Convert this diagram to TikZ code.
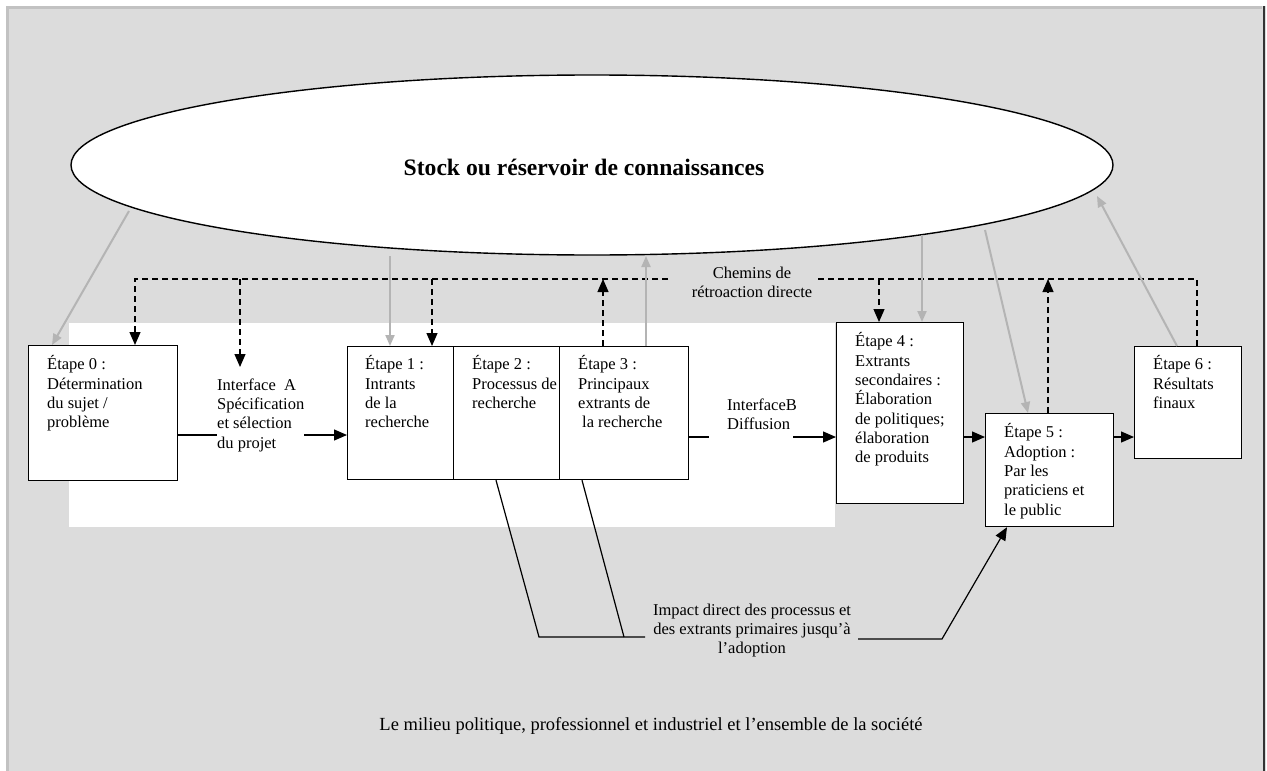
\documentclass[tikz,border=0pt]{standalone}
\usepackage{fontspec}
\setmainfont{Liberation Serif}
\usetikzlibrary{arrows.meta,shapes.geometric,calc}
\definecolor{bggray}{HTML}{DCDCDC}
\definecolor{edgegray}{HTML}{C2C2C2}
\definecolor{arrgray}{HTML}{B4B4B4}
\newcommand\boxfont{\fontsize{16.5}{19.3}\selectfont}
\begin{document}
\begin{tikzpicture}[x=1pt,y=-1pt,
  stepbox/.style={draw=black,line width=1.2pt,fill=white,inner sep=0pt,anchor=north west},
  lbl/.style={anchor=north west,inner sep=0pt,align=left,font=\boxfont},
  clbl/.style={anchor=north,inner sep=0pt,align=center,font=\boxfont},
  flow/.style={line width=1.2pt,-{Triangle[length=13pt,width=11pt]}},
  plainline/.style={line width=1.2pt},
  fb/.style={line width=1.2pt,dash pattern=on 6pt off 4pt},
  fbarrow/.style={fb,-{Triangle[length=13pt,width=11pt]}},
  grayarr/.style={arrgray,line width=2pt,-{Triangle[length=11pt,width=9pt]}},
]
\useasboundingbox (0,0) rectangle (1267,771);
% frame
\fill[white] (0,0) rectangle (1267,771);
\fill[bggray] (6,6) rectangle (1266,771);
\draw[edgegray,line width=3pt] (7.5,771) -- (7.5,7.5) -- (1262,7.5);
\draw[black!80,line width=2pt] (1264,6) -- (1264,771);
\fill[white] (69,323) rectangle (835,527);

% knowledge stock
\node[ellipse,draw=black,line width=1.4pt,fill=white,minimum width=1042pt,minimum height=180pt,inner sep=0pt] (stock) at (592,165) {};
\node[inner sep=0pt,font=\bfseries\fontsize{23.6}{28}\selectfont] (stocktxt) at (584,167) {Stock ou réservoir de connaissances};

% boxes
\node[stepbox,minimum width=149pt,minimum height=135pt] (box0) at (28,345) {};
\node[stepbox,minimum width=106pt,minimum height=133pt] (box1) at (347,346) {};
\node[stepbox,minimum width=106pt,minimum height=133pt] (box2) at (453,346) {};
\node[stepbox,minimum width=129pt,minimum height=133pt] (box3) at (559,346) {};
\node[stepbox,minimum width=127pt,minimum height=181pt] (box4) at (836,322) {};
\node[stepbox,minimum width=128pt,minimum height=113pt] (box5) at (985,413) {};
\node[stepbox,minimum width=107pt,minimum height=112pt] (box6) at (1134,346) {};

% texts
\node[lbl] (t0) at (47,355.5) {\strut Étape 0 :\\Détermination\\du sujet /\\problème};
\node[lbl] (ifa) at (217,376.5) {\strut Interface\ \ A\\Spécification\\et sélection\\du projet};
\node[lbl] (t1) at (365,355.5) {\strut Étape 1 :\\Intrants\\de la\\recherche};
\node[lbl] (t2) at (472,355.5) {\strut Étape 2 :\\Processus de\\recherche};
\node[lbl] (t3) at (578,355.5) {\strut Étape 3 :\\Principaux\\extrants de\\\hspace*{4pt}la recherche};
\node[lbl] (ifb) at (727,396.5) {\strut InterfaceB\\Diffusion};
\node[lbl] (t4) at (855,332.5) {\strut Étape 4 :\\Extrants\\secondaires :\\Élaboration\\de politiques;\\élaboration\\de produits};
\node[lbl] (t5) at (1004,423.5) {\strut Étape 5 :\\Adoption :\\Par les\\praticiens et\\le public};
\node[lbl] (t6) at (1153,355.5) {\strut Étape 6 :\\Résultats\\finaux};
\node[clbl] (chemins) at (752,264.5) {\strut Chemins de\\rétroaction directe};
\node[clbl] (impact) at (752,601.5) {\strut Impact direct des processus et\\des extrants primaires jusqu’à\\l’adoption};
\node[anchor=base,inner sep=0pt,font=\fontsize{18.5}{22}\selectfont] (milieu) at (651,730) {Le milieu politique, professionnel et industriel et l’ensemble de la société};

% main flow
\coordinate (rowA) at (0,435);
\coordinate (rowB) at (0,437);
\draw[plainline] (box0.east |- rowA) -- (ifa.west |- rowA);
\draw[flow] (ifa.east |- rowA) -- (box1.west |- rowA);
\draw[plainline] (box3.east |- rowB) -- ([xshift=-18pt]ifb.west |- rowB);
\draw[flow] ([xshift=-4pt]ifb.east |- rowB) -- (box4.west |- rowB);
\draw[flow] (box4.east |- rowB) -- (box5.west |- rowB);
\draw[flow] (box5.east |- rowB) -- (box6.west |- rowB);

% direct feedback paths
\coordinate (d0) at (135,279);
\coordinate (d1) at (240,279);
\coordinate (d2) at (432,279);
\coordinate (d3) at (603,279);
\coordinate (d4) at (879,279);
\coordinate (d5) at (1048,279);
\coordinate (d6) at (1197,279);
\coordinate (hL) at (668,279);
\coordinate (hR) at (818,279);
\coordinate (ifatop) at (240,367);
\draw[fbarrow] (hL) -- (d0) -- (d0 |- box0.north);
\draw[fb] (hR) -- (d6) -- (d6 |- box6.north);
\draw[fbarrow] (d1) -- (ifatop);
\draw[fbarrow] (d2) -- (d2 |- box1.north);
\draw[fbarrow] (d3 |- box3.north) -- (d3);
\draw[fbarrow] (d4) -- (d4 |- box4.north);
\draw[fbarrow] (d5 |- box5.north) -- (d5);

% knowledge stock links
\coordinate (s0) at (129,211);
\coordinate (s1) at (390,256);
\coordinate (s3) at (646,256);
\coordinate (s4) at (922,235);
\coordinate (s5) at (985,230);
\coordinate (s6) at (1097,196);
\draw[grayarr] (s0) -- ([xshift=24pt]box0.north west);
\draw[grayarr] (s1) -- (s1 |- box1.north);
\draw[grayarr] (s3 |- box3.north) -- (s3);
\draw[grayarr] (s4) -- (s4 |- box4.north);
\draw[grayarr] (s5) -- ([xshift=43pt]box5.north west);
\draw[grayarr] ([xshift=43pt]box6.north west) -- (s6);

% direct impact
\coordinate (i2) at (539,637);
\coordinate (i3) at (624,637);
\coordinate (iend) at (645,637);
\coordinate (j1) at (858,639);
\coordinate (j2) at (942,639);
\draw[plainline] ([xshift=43pt]box2.south west) -- (i2) -- (iend);
\draw[plainline] ([xshift=23pt]box3.south west) -- (i3);
\draw[flow] (j1) -- (j2) -- ([xshift=22pt]box5.south west);
\end{tikzpicture}
\end{document}
